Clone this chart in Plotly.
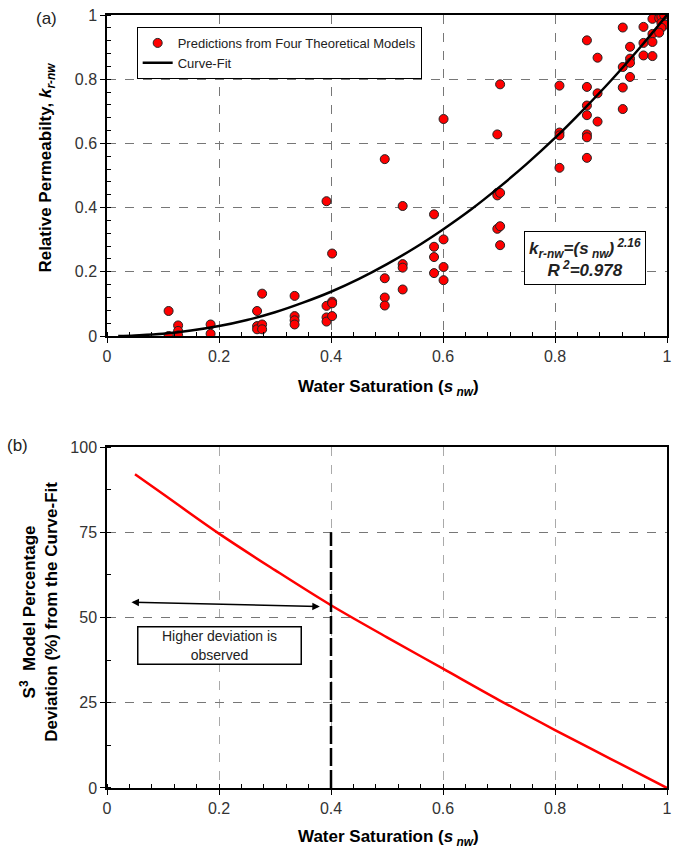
import plotly.graph_objects as go

# ---------------- data: panel (a) ----------------
pred_x = [0.110, 0.110,
          0.127, 0.127, 0.127,
          0.185, 0.185,
          0.268, 0.268, 0.268,
          0.277, 0.277, 0.277,
          0.335, 0.335, 0.335, 0.335,
          0.392, 0.392, 0.392, 0.392,
          0.402, 0.402, 0.402, 0.402,
          0.496, 0.496, 0.496, 0.496,
          0.528, 0.528, 0.528, 0.528,
          0.584, 0.584, 0.584, 0.584,
          0.601, 0.601, 0.601, 0.601,
          0.697, 0.697, 0.697, 0.697,
          0.702, 0.702, 0.702, 0.702,
          0.808, 0.808, 0.808, 0.808,
          0.857, 0.857, 0.857, 0.857, 0.857, 0.857, 0.857,
          0.876, 0.876, 0.876,
          0.921, 0.921, 0.921, 0.921,
          0.934, 0.934, 0.934, 0.934,
          0.958, 0.958, 0.958,
          0.974, 0.974, 0.974, 0.974,
          0.986, 0.990, 0.995, 0.990, 0.997, 0.990, 0.986]
pred_y = [0.078, 0.000,
          0.033, 0.016, 0.002,
          0.036, 0.007,
          0.078, 0.031, 0.021,
          0.132, 0.036, 0.021,
          0.125, 0.062, 0.049, 0.036,
          0.420, 0.094, 0.058, 0.045,
          0.257, 0.107, 0.102, 0.062,
          0.551, 0.180, 0.120, 0.095,
          0.405, 0.224, 0.213, 0.145,
          0.379, 0.278, 0.246, 0.196,
          0.676, 0.301, 0.215, 0.174,
          0.628, 0.446, 0.438, 0.334,
          0.784, 0.446, 0.342, 0.283,
          0.780, 0.634, 0.625, 0.524,
          0.921, 0.776, 0.718, 0.688, 0.628, 0.619, 0.555,
          0.867, 0.756, 0.668,
          0.961, 0.838, 0.774, 0.707,
          0.901, 0.864, 0.851, 0.807,
          0.963, 0.913, 0.874,
          0.988, 0.941, 0.916, 0.872,
          0.990, 0.995, 1.000, 0.975, 0.970, 0.960, 0.945]

fit_x = [0.02, 0.05, 0.10, 0.15, 0.20, 0.25, 0.30, 0.35, 0.40, 0.45, 0.50,
         0.55, 0.60, 0.65, 0.70, 0.75, 0.80, 0.85, 0.90, 0.95, 1.00]
fit_y = [0.000, 0.002, 0.007, 0.017, 0.031, 0.050, 0.074, 0.104, 0.138, 0.178, 0.224,
         0.275, 0.332, 0.394, 0.463, 0.537, 0.617, 0.704, 0.796, 0.895, 1.000]

# ---------------- data: panel (b) ----------------
dev_x = [0.05, 0.10, 0.20, 0.30, 0.40, 0.50, 0.60, 0.70, 0.80, 0.90, 1.00]
dev_y = [92.0, 86.2, 74.6, 63.9, 53.6, 44.2, 35.0, 25.8, 17.0, 8.5, 0.0]

marker_x = [0.4, 0.4]
marker_y = [0, 75]

arrow_x = [0.041, 0.38]
arrow_y = [54.5, 53.2]

xticks = [0, 0.2, 0.4, 0.6, 0.8, 1]
xtick_text = ["0", "0.2", "0.4", "0.6", "0.8", "1"]
yticks_a = [0, 0.2, 0.4, 0.6, 0.8, 1]
ytick_text_a = ["0", "0.2", "0.4", "0.6", "0.8", "1"]
yticks_b = [0, 25, 50, 75, 100]
ytick_text_b = ["0", "25", "50", "75", "100"]

# ---------------- figure ----------------
FONT = "Arial, 'Liberation Sans', sans-serif"

fig = go.Figure()

fig.add_trace(go.Scatter(
    x=pred_x, y=pred_y, mode="markers",
    name="Predictions from Four Theoretical Models",
    marker=dict(color="#ff0000", size=9, line=dict(color="#222222", width=1)),
    xaxis="x", yaxis="y"))
fig.add_trace(go.Scatter(
    x=fit_x, y=fit_y, mode="lines", name="Curve-Fit",
    line=dict(color="black", width=2.5, shape="spline"),
    xaxis="x", yaxis="y"))

fig.add_trace(go.Scatter(
    x=dev_x, y=dev_y, mode="lines", showlegend=False,
    line=dict(color="#ff0000", width=2.5, shape="spline"),
    xaxis="x2", yaxis="y2"))
fig.add_trace(go.Scatter(
    x=marker_x, y=marker_y, mode="lines", showlegend=False,
    line=dict(color="black", width=2.5, dash="18px,4px"),
    xaxis="x2", yaxis="y2"))

top_dom = [0.5847, 1.0]
bot_dom = [0.0, 0.4411]

tickfont = dict(family=FONT, size=16, color="#333333")

common_x = dict(range=[0, 1], tickvals=xticks, ticktext=xtick_text,
                showline=True, linecolor="black", linewidth=1.5, mirror=True,
                ticks="outside", ticklen=5, tickcolor="black", tickwidth=1,
                tickfont=tickfont, automargin=False,
                showgrid=True, griddash="dash", gridwidth=1, zeroline=False,
                minor=dict(dtick=0.04, ticks="inside", ticklen=4, tickcolor="black",
                           showgrid=False),
                domain=[0, 1])

fig.update_layout(
    width=673, height=851,
    margin=dict(l=107, r=6, t=15, b=63, autoexpand=False),
    paper_bgcolor="white", plot_bgcolor="white",
    font=dict(family=FONT, color="black"),
    xaxis=dict(common_x, anchor="y", gridcolor="#777777"),
    yaxis=dict(range=[0, 1], domain=top_dom, anchor="x",
               tickvals=yticks_a, ticktext=ytick_text_a, automargin=False,
               showline=True, linecolor="black", linewidth=1.5, mirror=True,
               ticks="outside", ticklen=5, tickcolor="black",
               tickfont=tickfont,
               showgrid=True, griddash="dash", gridcolor="#777777", zeroline=False,
               minor=dict(dtick=0.04, ticks="inside", ticklen=4, tickcolor="black",
                          showgrid=False)),
    xaxis2=dict(common_x, anchor="y2", gridcolor="#aaaaaa"),
    yaxis2=dict(range=[0, 100], domain=bot_dom, anchor="x2",
                tickvals=yticks_b, ticktext=ytick_text_b, automargin=False,
                showline=True, linecolor="black", linewidth=1.5, mirror=True,
                ticks="outside", ticklen=5, tickcolor="black",
                tickfont=tickfont,
                showgrid=True, griddash="dash", gridcolor="#777777", zeroline=False,
                minor=dict(dtick=12.5, ticks="inside", ticklen=4, tickcolor="black",
                           showgrid=False)),
    legend=dict(x=0.053, y=0.9845, xanchor="left", yanchor="top",
                bgcolor="white", bordercolor="black", borderwidth=1,
                font=dict(family=FONT, size=13, color="#222222"),
                itemwidth=30, tracegroupgap=0),
    showlegend=True,
)

title_font = dict(family=FONT, size=17, color="black")
ann = []
# axis titles
ann.append(dict(xref="paper", yref="paper", x=0.503, y=0.5175,
                text="<b>Water Saturation (<i>s<sub> nw</sub></i>)</b>",
                showarrow=False, font=title_font, xanchor="center", yanchor="middle"))
ann.append(dict(xref="paper", yref="paper", x=0.503, y=-0.0647,
                text="<b>Water Saturation (<i>s<sub> nw</sub></i>)</b>",
                showarrow=False, font=title_font, xanchor="center", yanchor="middle"))
ann.append(dict(xref="paper", yref="paper", x=-0.1066, y=0.803,
                text="<b>Relative Permeabilty, <i>k<sub>r-nw</sub></i></b>",
                textangle=-90, showarrow=False, font=title_font,
                xanchor="center", yanchor="middle"))
ann.append(dict(xref="paper", yref="paper", x=-0.1217, y=0.2277,
                text="<b>S<sup>3</sup>  Model Percentage<br>Deviation (%) from the Curve-Fit</b>",
                textangle=-90, showarrow=False, font=title_font,
                xanchor="center", yanchor="middle"))
# panel labels
ann.append(dict(xref="paper", yref="paper", x=-0.1083, y=0.996, text="(a)",
                showarrow=False, font=dict(family=FONT, size=17, color="#222222"),
                xanchor="center", yanchor="middle"))
ann.append(dict(xref="paper", yref="paper", x=-0.16, y=0.4437, text="(b)",
                showarrow=False, font=dict(family=FONT, size=17, color="#222222"),
                xanchor="center", yanchor="middle"))
# equation box
ann.append(dict(xref="x", yref="y", x=0.853, y=0.2416,
                text="<b><i>k<sub>r-nw</sub>=(s<sub> nw</sub>)<sup> 2.16</sup></i></b><br>"
                     "<b><i>R<sup> 2</sup>=0.978</i></b>",
                showarrow=False, bgcolor="white", bordercolor="black", borderwidth=1,
                borderpad=4, font=dict(family=FONT, size=17, color="#222222"),
                xanchor="center", yanchor="middle"))
# double-headed arrow
ann.append(dict(xref="x2", yref="y2", axref="x2", ayref="y2",
                x=arrow_x[1], y=arrow_y[1], ax=arrow_x[0], ay=arrow_y[0],
                text="", showarrow=True, arrowhead=2, startarrowhead=2,
                arrowside="end+start", arrowwidth=1.5, arrowsize=1,
                startarrowsize=1, arrowcolor="black"))
# text box
ann.append(dict(xref="x2", yref="y2", x=0.2007, y=41.8,
                text="Higher deviation is<br>observed",
                showarrow=False, bgcolor="white", bordercolor="black", borderwidth=1.5,
                width=160, height=34, borderpad=1,
                font=dict(family=FONT, size=14, color="#222222"),
                xanchor="center", yanchor="middle"))

fig.update_layout(annotations=ann)

fig.write_html("out.html",
               config={"displayModeBar": False},
               post_script="document.body.style.margin='0px';"
                           "document.body.style.overflow='hidden';")
